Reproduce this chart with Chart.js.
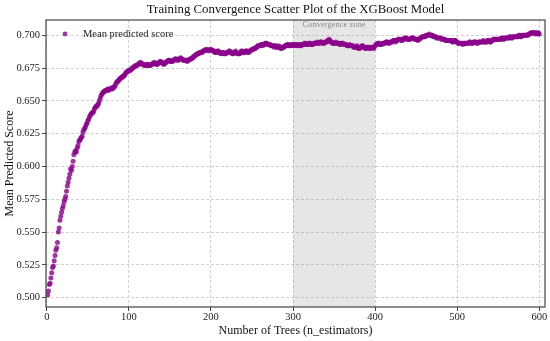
<!DOCTYPE html>
<html>
<head>
<meta charset="utf-8">
<script src="https://cdn.jsdelivr.net/npm/chart.js@4.4.1/dist/chart.umd.min.js"></script>
<style>
  html, body { margin: 0; padding: 0; background: #fff; }
  #wrap { width: 550px; height: 341px; }
</style>
</head>
<body>
<div id="wrap"><canvas id="scatter"></canvas></div>
<script>
// mean predicted score after each tree
var score = [
  0.502, 0.505, 0.510, 0.511, 0.515, 0.519, 0.523, 0.524, 0.528, 0.532,
  0.536, 0.538, 0.542, 0.550, 0.553, 0.559, 0.562, 0.565, 0.568, 0.570,
  0.573, 0.575, 0.577, 0.581, 0.585, 0.588, 0.591, 0.594, 0.598, 0.597,
  0.600, 0.604, 0.609, 0.611, 0.612, 0.611, 0.614, 0.616, 0.619, 0.620,
  0.621, 0.622, 0.623, 0.626, 0.628, 0.629, 0.630, 0.632, 0.633, 0.635,
  0.636, 0.638, 0.639, 0.640, 0.641, 0.641, 0.642, 0.644, 0.645, 0.646,
  0.646, 0.647, 0.648, 0.650, 0.652, 0.654, 0.655, 0.656, 0.657, 0.657,
  0.658, 0.658, 0.658, 0.659, 0.658, 0.659, 0.659, 0.659, 0.660, 0.659,
  0.660, 0.661, 0.661, 0.663, 0.664, 0.665, 0.665, 0.666, 0.667, 0.667,
  0.668, 0.668, 0.669, 0.669, 0.670, 0.671, 0.672, 0.672, 0.673, 0.673,
  0.673, 0.674, 0.674, 0.675, 0.675, 0.676, 0.676, 0.677, 0.677, 0.677,
  0.678, 0.678, 0.679, 0.679, 0.679, 0.678, 0.678, 0.678, 0.677, 0.677,
  0.677, 0.678, 0.678, 0.677, 0.677, 0.677, 0.678, 0.678, 0.678, 0.679,
  0.679, 0.679, 0.678, 0.678, 0.678, 0.679, 0.679, 0.680, 0.680, 0.679,
  0.679, 0.678, 0.678, 0.679, 0.679, 0.680, 0.680, 0.681, 0.681, 0.681,
  0.680, 0.680, 0.680, 0.681, 0.681, 0.682, 0.682, 0.682, 0.681, 0.681,
  0.682, 0.682, 0.683, 0.682, 0.682, 0.681, 0.681, 0.681, 0.681, 0.681,
  0.680, 0.681, 0.681, 0.682, 0.682, 0.682, 0.683, 0.683, 0.684, 0.684,
  0.685, 0.685, 0.686, 0.686, 0.686, 0.687, 0.687, 0.687, 0.687, 0.688,
  0.688, 0.688, 0.689, 0.689, 0.689, 0.689, 0.688, 0.689, 0.689, 0.689,
  0.689, 0.688, 0.688, 0.688, 0.687, 0.687, 0.687, 0.688, 0.688, 0.687,
  0.687, 0.686, 0.686, 0.687, 0.687, 0.686, 0.686, 0.686, 0.687, 0.687,
  0.687, 0.688, 0.688, 0.687, 0.687, 0.686, 0.686, 0.687, 0.687, 0.688,
  0.687, 0.686, 0.686, 0.686, 0.686, 0.687, 0.688, 0.688, 0.687, 0.687,
  0.687, 0.688, 0.688, 0.688, 0.687, 0.687, 0.688, 0.688, 0.689, 0.689,
  0.689, 0.690, 0.690, 0.690, 0.691, 0.691, 0.692, 0.692, 0.692, 0.692,
  0.693, 0.693, 0.692, 0.693, 0.693, 0.694, 0.694, 0.694, 0.693, 0.693,
  0.693, 0.693, 0.692, 0.692, 0.692, 0.692, 0.691, 0.692, 0.692, 0.691,
  0.691, 0.691, 0.692, 0.691, 0.690, 0.690, 0.691, 0.691, 0.691, 0.692,
  0.692, 0.692, 0.693, 0.693, 0.692, 0.692, 0.692, 0.693, 0.693, 0.692,
  0.692, 0.693, 0.693, 0.693, 0.692, 0.692, 0.693, 0.693, 0.692, 0.692,
  0.693, 0.693, 0.693, 0.694, 0.694, 0.693, 0.693, 0.693, 0.694, 0.694,
  0.694, 0.693, 0.693, 0.693, 0.694, 0.694, 0.694, 0.694, 0.695, 0.694,
  0.694, 0.694, 0.695, 0.695, 0.695, 0.694, 0.694, 0.694, 0.695, 0.695,
  0.695, 0.696, 0.696, 0.697, 0.696, 0.695, 0.695, 0.694, 0.694, 0.694,
  0.694, 0.695, 0.694, 0.694, 0.694, 0.694, 0.693, 0.693, 0.694, 0.694,
  0.694, 0.693, 0.693, 0.693, 0.693, 0.692, 0.692, 0.692, 0.693, 0.692,
  0.692, 0.692, 0.692, 0.691, 0.691, 0.691, 0.691, 0.692, 0.691, 0.690,
  0.690, 0.691, 0.691, 0.692, 0.692, 0.691, 0.691, 0.690, 0.690, 0.691,
  0.691, 0.691, 0.690, 0.690, 0.691, 0.691, 0.691, 0.690, 0.691, 0.692,
  0.693, 0.693, 0.694, 0.694, 0.694, 0.693, 0.693, 0.693, 0.694, 0.694,
  0.694, 0.694, 0.695, 0.695, 0.695, 0.694, 0.694, 0.695, 0.695, 0.695,
  0.695, 0.696, 0.696, 0.696, 0.695, 0.696, 0.696, 0.697, 0.697, 0.697,
  0.697, 0.696, 0.696, 0.697, 0.697, 0.698, 0.698, 0.698, 0.697, 0.697,
  0.697, 0.697, 0.697, 0.698, 0.698, 0.698, 0.698, 0.697, 0.697, 0.697,
  0.697, 0.696, 0.697, 0.697, 0.698, 0.698, 0.699, 0.699, 0.699, 0.699,
  0.699, 0.700, 0.700, 0.700, 0.700, 0.701, 0.700, 0.700, 0.700, 0.700,
  0.699, 0.699, 0.699, 0.699, 0.698, 0.698, 0.698, 0.698, 0.698, 0.698,
  0.697, 0.697, 0.697, 0.697, 0.697, 0.696, 0.696, 0.696, 0.696, 0.696,
  0.696, 0.696, 0.696, 0.695, 0.695, 0.696, 0.696, 0.696, 0.695, 0.695,
  0.694, 0.694, 0.694, 0.694, 0.694, 0.694, 0.693, 0.694, 0.694, 0.694,
  0.694, 0.694, 0.694, 0.694, 0.695, 0.695, 0.694, 0.694, 0.694, 0.695,
  0.695, 0.695, 0.695, 0.694, 0.694, 0.695, 0.695, 0.695, 0.695, 0.695,
  0.695, 0.696, 0.695, 0.695, 0.695, 0.695, 0.696, 0.696, 0.696, 0.695,
  0.695, 0.696, 0.696, 0.697, 0.697, 0.697, 0.697, 0.697, 0.697, 0.697,
  0.697, 0.697, 0.697, 0.698, 0.698, 0.697, 0.697, 0.698, 0.698, 0.698,
  0.698, 0.698, 0.698, 0.699, 0.699, 0.698, 0.698, 0.699, 0.699, 0.699,
  0.699, 0.699, 0.699, 0.699, 0.700, 0.700, 0.699, 0.699, 0.700, 0.700,
  0.700, 0.700, 0.700, 0.700, 0.700, 0.700, 0.701, 0.701, 0.701, 0.702,
  0.702, 0.702, 0.702, 0.702, 0.701, 0.702, 0.702, 0.701, 0.702, 0.701
];

// number of trees, 1 .. 600
var trees = [];
for (var i = 1; i <= score.length; i++) {
  trees.push(i);
}

var xTicks = [0, 100, 200, 300, 400, 500, 600];
var yTicks = [0.500, 0.525, 0.550, 0.575, 0.600, 0.625, 0.650, 0.675, 0.700];
var zoneRange = [300, 400];
var zoneLabel = "Convergence zone";
var seriesLabel = "Mean predicted score";
var chartTitle = "Training Convergence Scatter Plot of the XGBoost Model";

var serif = "'Liberation Serif', 'Times New Roman', serif";
var purple = "rgba(139, 0, 139, 0.8)";

function points() {
  var pts = [];
  for (var i = 0; i < trees.length; i++) {
    pts.push({ x: trees[i], y: score[i] });
  }
  return pts;
}

// shaded band behind the dots
var zonePlugin = {
  id: "zone",
  beforeDatasetsDraw: function(chart) {
    var ctx = chart.ctx, a = chart.chartArea, x = chart.scales.x;
    var x0 = x.getPixelForValue(zoneRange[0]);
    var x1 = x.getPixelForValue(zoneRange[1]);
    ctx.save();
    ctx.fillStyle = "rgba(128, 128, 128, 0.2)";
    ctx.fillRect(x0, a.top, x1 - x0, a.bottom - a.top);
    ctx.fillStyle = "#8a8a8a";
    ctx.font = "8.5px " + serif;
    ctx.textAlign = "center";
    ctx.textBaseline = "top";
    ctx.fillText(zoneLabel, (x0 + x1) / 2, a.top + 1);
    ctx.restore();
  }
};

// box round the plot, the legend in its corner, title centred on the plot
var framePlugin = {
  id: "frame",
  afterDatasetsDraw: function(chart) {
    var ctx = chart.ctx, a = chart.chartArea;
    ctx.save();
    ctx.strokeStyle = "#444";
    ctx.lineWidth = 1.2;
    ctx.strokeRect(a.left, a.top, a.right - a.left, a.bottom - a.top);

    ctx.fillStyle = purple;
    ctx.beginPath();
    ctx.arc(a.left + 19, a.top + 14, 2.4, 0, Math.PI * 2);
    ctx.fill();
    ctx.fillStyle = "#222";
    ctx.font = "10.5px " + serif;
    ctx.textAlign = "left";
    ctx.textBaseline = "middle";
    ctx.fillText(seriesLabel, a.left + 37, a.top + 14);

    ctx.fillStyle = "#111";
    ctx.font = "12.8px " + serif;
    ctx.textAlign = "center";
    ctx.fillText(chartTitle, (a.left + a.right) / 2, a.top - 10);
    ctx.restore();
  }
};

new Chart(document.getElementById("scatter"), {
  type: "scatter",
  data: {
    datasets: [{
      label: seriesLabel,
      data: points(),
      backgroundColor: purple,
      borderWidth: 0,
      pointRadius: 2.5,
      pointHoverRadius: 2.5
    }]
  },
  options: {
    responsive: true,
    maintainAspectRatio: false,
    animation: false,
    layout: { padding: { left: 0, right: 5, top: 20, bottom: 3 } },
    plugins: {
      legend: { display: false },
      tooltip: { enabled: false },
      title: { display: false }
    },
    scales: {
      x: {
        type: "linear",
        min: -1,
        max: 607,
        afterBuildTicks: function(scale) {
          scale.ticks = xTicks.map(function(v) { return { value: v }; });
        },
        afterFit: function(scale) { scale.height = 31; },
        grid: {
          color: "#d0d0d0",
          tickLength: 4,
          tickColor: "#444",
          drawTicks: true
        },
        border: { display: false, dash: [3, 2] },
        ticks: {
          color: "#222",
          font: { family: serif, size: 10.5 },
          padding: 0,
          maxRotation: 0
        },
        title: {
          display: true,
          text: "Number of Trees (n_estimators)",
          color: "#111",
          font: { family: serif, size: 12 },
          padding: { top: 0, bottom: 0 }
        }
      },
      y: {
        type: "linear",
        min: 0.4928,
        max: 0.7117,
        afterBuildTicks: function(scale) {
          scale.ticks = yTicks.map(function(v) { return { value: v }; });
        },
        afterFit: function(scale) { scale.width = 46; },
        grid: {
          color: "#d0d0d0",
          tickLength: 4,
          tickColor: "#444",
          drawTicks: true
        },
        border: { display: false, dash: [3, 2] },
        ticks: {
          color: "#222",
          font: { family: serif, size: 10.5 },
          padding: 2,
          callback: function(v) { return v.toFixed(3); }
        },
        title: {
          display: true,
          text: "Mean Predicted Score",
          color: "#111",
          font: { family: serif, size: 12 },
          padding: { top: 3, bottom: 1 }
        }
      }
    }
  },
  plugins: [zonePlugin, framePlugin]
});
</script>
</body>
</html>
